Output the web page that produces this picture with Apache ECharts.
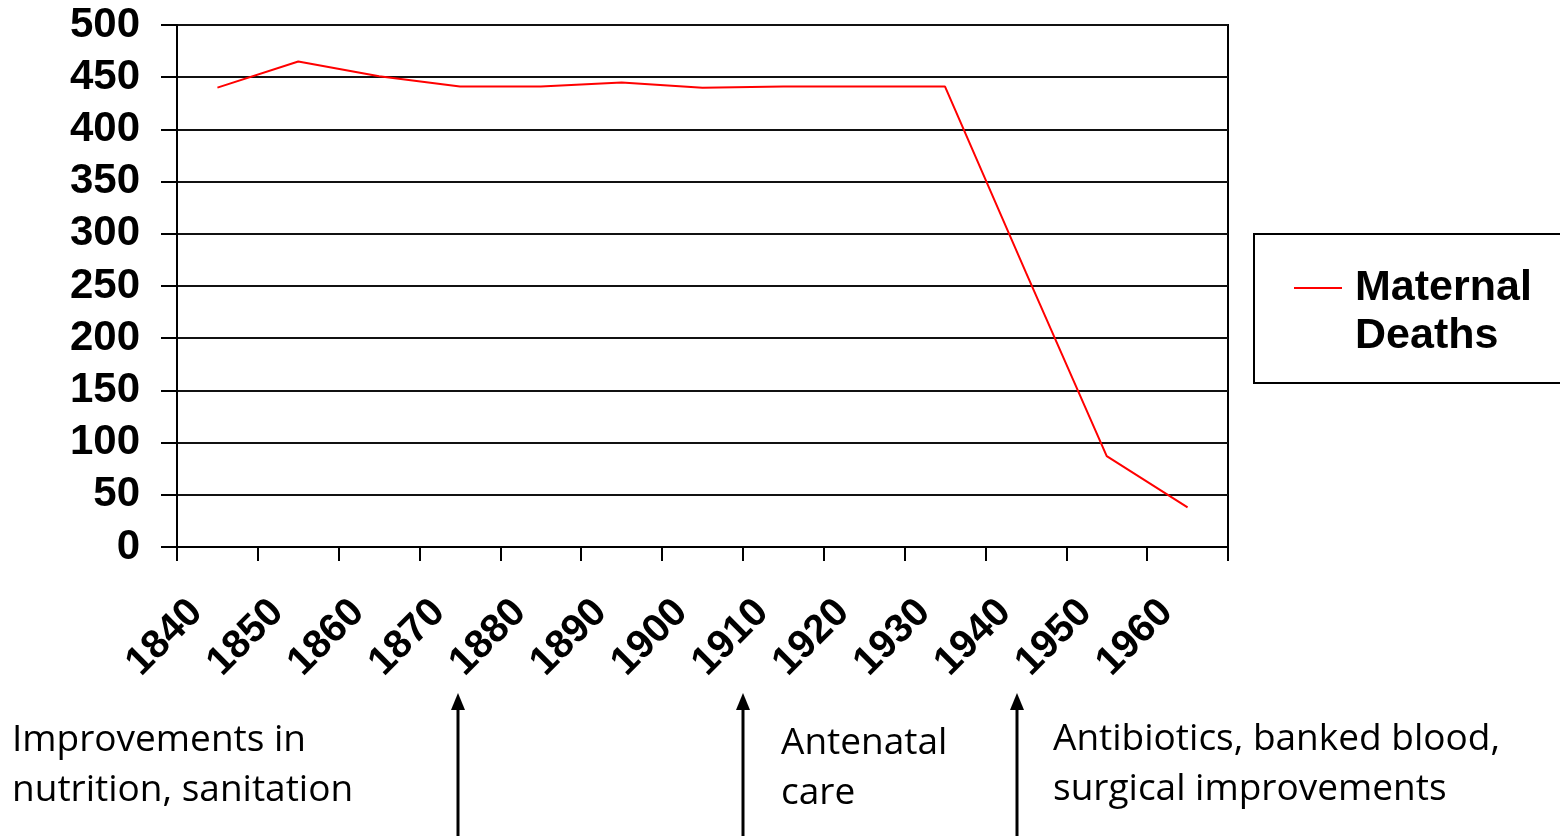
<!DOCTYPE html>
<html>
<head>
<meta charset="utf-8">
<script src="https://cdn.jsdelivr.net/npm/echarts@6/dist/echarts.min.js"></script>
<style>
  html, body { margin: 0; padding: 0; background: #fff; }
  #chart { width: 1560px; height: 836px; }
</style>
</head>
<body>
<div id="chart"></div>
<script>
// data
const years = ['1840', '1850', '1860', '1870', '1880', '1890', '1900', '1910', '1920', '1930', '1940', '1950', '1960']
const maternalDeaths = [440, 465, 451, 441, 441, 445, 440, 441, 441, 441, 263, 87, 38]
const yTicks = { min: 0, max: 500, interval: 50 }

// annotation texts under the axis
const notes = [
  { text: 'Improvements in\nnutrition, sanitation', x: 12, y: 715 },
  { text: 'Antenatal\ncare', x: 781, y: 718 },
  { text: 'Antibiotics, banked blood,\nsurgical improvements', x: 1053, y: 714 }
]
const arrowXs = [458, 743, 1017]

const chart = echarts.init(document.getElementById('chart'))

function arrow(x, tipY) {
  return [
    { type: 'line', shape: { x1: x, y1: tipY + 12, x2: x, y2: 836 }, style: { stroke: '#000', lineWidth: 3 } },
    { type: 'polygon', shape: { points: [[x, tipY], [x - 7, tipY + 17], [x + 7, tipY + 17]] }, style: { fill: '#000' } }
  ]
}

const graphics = []
notes.forEach(n => {
  graphics.push({
    type: 'text', left: n.x, top: n.y,
    style: { text: n.text, font: '37px "Open Sans", sans-serif', fill: '#000', lineHeight: 50 }
  })
})
arrowXs.forEach(x => { graphics.push(...arrow(x, 693)) })
// legend frame
graphics.push({
  type: 'rect', shape: { x: 1254, y: 234, width: 340, height: 149 },
  style: { fill: 'none', stroke: '#000', lineWidth: 2 }
})

const boldFont = 'Liberation Sans, Arial, sans-serif'

const option = {
  animation: false,
  backgroundColor: '#fff',
  grid: {
    left: 177, right: 332, top: 25, bottom: 289,
    show: true, borderColor: '#000', borderWidth: 2, backgroundColor: 'transparent'
  },
  legend: {
    left: 1294, top: 235, padding: 0,
    icon: 'rect',
    itemWidth: 48, itemHeight: 2,
    // empty first line pushes the name down so the icon sits on "Maternal"
    formatter: () => '{gap| }\n{name|Maternal}\n{name|Deaths}',
    textStyle: {
      color: '#000',
      rich: {
        gap: { fontSize: 10, lineHeight: 48 },
        name: {
          fontFamily: boldFont, fontWeight: 'bold', fontSize: 43,
          color: '#000', lineHeight: 48, padding: [0, 0, 0, 8]
        }
      }
    }
  },
  xAxis: {
    type: 'category',
    data: years,
    boundaryGap: true,
    axisLine: { lineStyle: { color: '#000', width: 2 } },
    axisTick: { show: true, length: 14, lineStyle: { color: '#000', width: 2 } },
    axisLabel: {
      rotate: 45, margin: 38, color: '#000', fontWeight: 'bold', fontSize: 40,
      fontFamily: boldFont, padding: [0, 30, 0, 0]
    },
    splitLine: { show: false }
  },
  yAxis: {
    type: 'value',
    min: yTicks.min, max: yTicks.max, interval: yTicks.interval,
    axisLine: { show: true, lineStyle: { color: '#000', width: 2 } },
    axisTick: { show: true, length: 16, lineStyle: { color: '#000', width: 2 } },
    axisLabel: {
      margin: 37, color: '#000', fontWeight: 'bold', fontSize: 42,
      fontFamily: boldFont
    },
    splitLine: { show: true, lineStyle: { color: '#111', width: 2 } }
  },
  series: [{
    name: 'Maternal Deaths',
    type: 'line',
    data: maternalDeaths,
    symbol: 'none',
    lineStyle: { color: '#ff0000', width: 2 },
    itemStyle: { color: '#ff0000' }
  }],
  graphic: graphics
}
chart.setOption(option)
</script>
</body>
</html>
